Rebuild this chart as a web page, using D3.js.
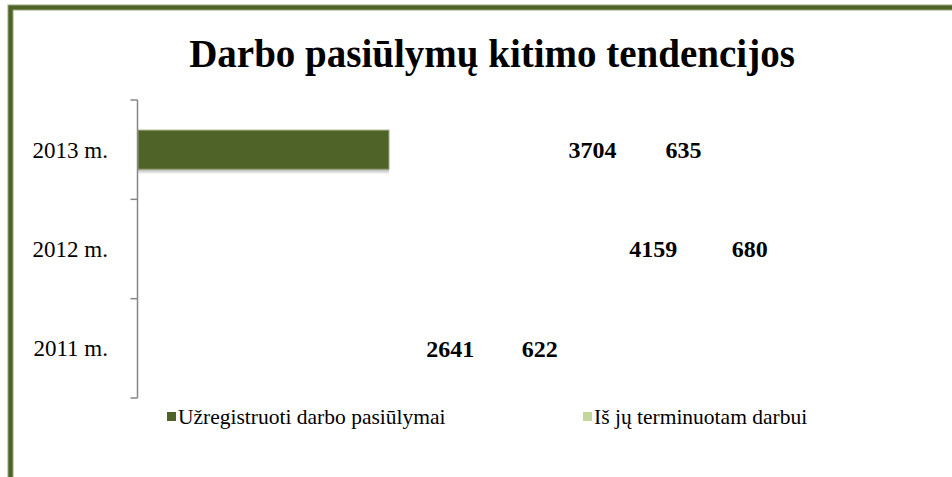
<!DOCTYPE html>
<html>
    <head>
        <meta charset="utf-8">
        <title></title>
        <script src="https://cdn.jsdelivr.net/npm/d3@7"></script>
        <style>
            body { margin: 0; background: #ffffff; }
            svg { display: block; }
            svg text { font-family: "Liberation Serif", "Times New Roman", serif; fill: #000; }
        </style>
    </head>
    <body>
        <svg width="952" height="477"></svg>
        <script>
            // data
            var categories = ["2013 m.", "2012 m.", "2011 m."];
            var registered = [3704, 4159, 2641];   // Užregistruoti darbo pasiūlymai
            var fixedTerm = [635, 680, 622];       // Iš jų terminuotam darbui
            var seriesNames = ["Užregistruoti darbo pasiūlymai", "Iš jų terminuotam darbui"];
            var seriesColors = ["#4f6228", "#c3d69b"];
            var shownBars = ["2013 m."];           // only this bar is drawn in the chart

            var svg = d3.select("svg"),
                width = +svg.attr("width"),
                height = +svg.attr("height");

            var rows = categories.map(function(c, i) {
                return {cat: c, reg: registered[i], fix: fixedTerm[i]};
            });

            // frame (only top and left edges fall inside the window)
            svg.append("rect")
                .attr("x", 10.5).attr("y", 7.5)
                .attr("width", 1000).attr("height", 600)
                .attr("fill", "none")
                .attr("stroke", "#9aa77a").attr("stroke-width", 6);
            svg.append("rect")
                .attr("x", 10.5).attr("y", 7.5)
                .attr("width", 1000).attr("height", 600)
                .attr("fill", "none")
                .attr("stroke", "#4f6228").attr("stroke-width", 4);

            svg.append("text")
                .attr("x", 492).attr("y", 67)
                .attr("text-anchor", "middle")
                .style("font-size", "39px").style("font-weight", "bold")
                .text("Darbo pasiūlymų kitimo tendencijos");

            var y = d3.scaleBand().domain(categories).range([100, 398]);
            var x = d3.scaleLinear().domain([0, 4000]).range([138, 409]);
            // the value labels sit on their own scale in the picture
            var labelX = d3.scaleLinear().domain([0, 4000]).range([97, 632]);
            var labelGap = d3.scaleLinear().domain([600, 700]).range([87, 99]);

            var defs = svg.append("defs");
            var grad = defs.append("linearGradient").attr("id", "shadow")
                .attr("x1", 0).attr("y1", 0).attr("x2", 0).attr("y2", 1);
            grad.append("stop").attr("offset", "0%").attr("stop-color", "#b0b0b0");
            grad.append("stop").attr("offset", "100%").attr("stop-color", "#ffffff");

            var barH = 39;
            var bars = svg.append("g").selectAll("g")
                .data(rows.filter(function(d) { return shownBars.indexOf(d.cat) >= 0; }))
                .enter().append("g");
            bars.append("rect")
                .attr("x", x(0))
                .attr("y", function(d) { return y(d.cat) + (y.bandwidth() - barH) / 2 + barH; })
                .attr("width", function(d) { return x(d.reg) - x(0); })
                .attr("height", 5)
                .attr("fill", "url(#shadow)");
            bars.append("rect")
                .attr("x", x(0))
                .attr("y", function(d) { return y(d.cat) + (y.bandwidth() - barH) / 2; })
                .attr("width", function(d) { return x(d.reg) - x(0); })
                .attr("height", barH)
                .attr("fill", seriesColors[0])
                .attr("stroke", "#8c9c6a").attr("stroke-width", 1);

            // axis
            var axis = svg.append("g")
                .attr("transform", "translate(" + 137.5 + ",0)")
                .call(d3.axisLeft(y).tickSize(0).tickFormat(""));
            axis.select(".domain").remove();
            axis.append("line")
                .attr("x1", 0).attr("x2", 0)
                .attr("y1", y.range()[0]).attr("y2", y.range()[1])
                .attr("stroke", "#868686").attr("stroke-width", 1.5);
            var edges = categories.map(function(c) { return y(c); }).concat([y.range()[1]]);
            axis.selectAll(".edge").data(edges).enter().append("line")
                .attr("class", "edge")
                .attr("x1", -7).attr("x2", 0)
                .attr("y1", function(d) { return d; }).attr("y2", function(d) { return d; })
                .attr("stroke", "#868686").attr("stroke-width", 1.5);

            svg.append("g").selectAll("text")
                .data(rows).enter().append("text")
                .attr("x", 108)
                .attr("y", function(d) { return y(d.cat) + y.bandwidth() / 2; })
                .attr("dy", "0.35em")
                .attr("text-anchor", "end")
                .style("font-size", "23px")
                .text(function(d) { return d.cat; });

            var labels = svg.append("g").style("font-size", "24px").style("font-weight", "bold");
            labels.selectAll(".v1").data(rows).enter().append("text")
                .attr("class", "v1")
                .attr("x", function(d) { return labelX(d.reg); })
                .attr("y", function(d) { return y(d.cat) + y.bandwidth() / 2; })
                .attr("dy", "0.35em")
                .attr("text-anchor", "middle")
                .text(function(d) { return d.reg; });
            labels.selectAll(".v2").data(rows).enter().append("text")
                .attr("class", "v2")
                .attr("x", function(d) { return labelX(d.reg) + labelGap(d.fix); })
                .attr("y", function(d) { return y(d.cat) + y.bandwidth() / 2; })
                .attr("dy", "0.35em")
                .attr("text-anchor", "middle")
                .text(function(d) { return d.fix; });

            // legend
            var legendX = [167, 583];
            var legend = svg.append("g").selectAll("g")
                .data(seriesNames).enter().append("g")
                .attr("transform", function(d, i) { return "translate(" + legendX[i] + "," + 416 + ")"; });
            legend.append("rect")
                .attr("x", 0).attr("y", -4).attr("width", 9).attr("height", 9)
                .attr("fill", function(d, i) { return seriesColors[i]; });
            legend.append("text")
                .attr("x", 11).attr("dy", "0.35em")
                .style("font-size", "21.5px")
                .text(function(d) { return d; });
        </script>
    </body>
</html>
